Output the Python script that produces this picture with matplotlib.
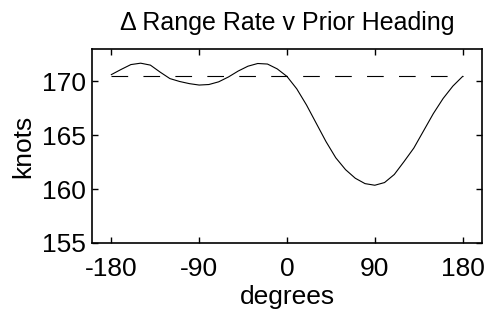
import matplotlib
matplotlib.use("Agg")
import matplotlib.pyplot as plt

# heading in degrees, range rate in knots
heading = list(range(-180, 181, 10))
range_rate = [170.62, 171.10, 171.55, 171.68, 171.50, 170.85, 170.25, 169.98,
              169.78, 169.65, 169.70, 169.95, 170.40, 170.95, 171.40, 171.65,
              171.60, 171.15, 170.45, 169.30, 167.80, 166.10, 164.40, 162.90,
              161.80, 161.00, 160.50, 160.35, 160.60, 161.35, 162.55, 163.80,
              165.40, 167.00, 168.40, 169.55, 170.45]
mean_x = [-180, 180]
mean_rate = [170.46, 170.46]

x_ticks = [-180, -90, 0, 90, 180]
y_ticks = [155, 160, 165, 170]

plt.rcParams['font.family'] = ['Liberation Sans', 'DejaVu Sans']
plt.rcParams['lines.scale_dashes'] = False

fig = plt.figure(figsize=(4.86, 3.2), dpi=100)
ax = fig.add_axes([0.189, 0.241, 0.803, 0.606])

ax.plot(heading, range_rate, color='black', linewidth=0.8)
ax.plot(mean_x, mean_rate, color='black', linewidth=0.8, linestyle=(0, (12, 11)))

ax.set_xlim(-200, 200)
ax.set_ylim(155, 173)
ax.set_xticks(x_ticks)
ax.set_xticklabels([str(t) for t in x_ticks])
ax.set_yticks(y_ticks)

ax.tick_params(direction='in', top=True, right=True, length=4, width=1,
               labelsize=19)
ax.tick_params(axis='x', pad=10)
ax.tick_params(axis='y', pad=4)
for s in ax.spines.values():
    s.set_linewidth(1.2)

ax.set_xlabel('degrees', fontsize=19, labelpad=3)
ax.set_ylabel('knots', fontsize=19, labelpad=5)
ax.set_title('\u0394 Range Rate v Prior Heading', fontsize=18, pad=14)

plt.savefig('out.png', dpi=100)
